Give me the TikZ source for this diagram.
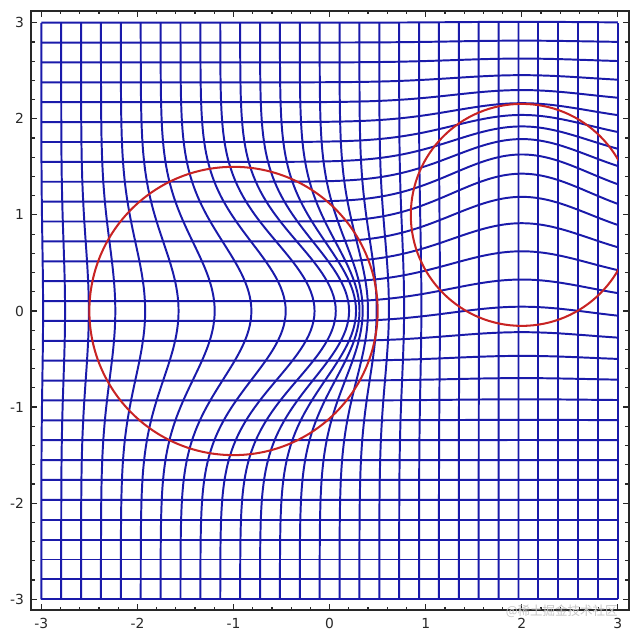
\documentclass[tikz,border=0pt]{standalone}
\usepackage{fontspec}
\setmainfont{DejaVu Sans}
\newfontfamily\cjk{Noto Sans CJK SC}
\definecolor{gridblue}{RGB}{26,26,170}
\definecolor{circred}{RGB}{200,35,35}
\definecolor{framegray}{RGB}{40,40,40}
\begin{document}
\begin{tikzpicture}[x=1cm,y=1cm,
  gridline/.style={gridblue, line width=0.58pt, line join=round},
  circline/.style={circred, line width=0.6pt},
  frameline/.style={framegray, line width=0.55pt},
  tickline/.style={framegray, line width=0.35pt},
  ticklabel/.style={font=\fontsize{4.1}{5}\selectfont, text=framegray, inner sep=0pt}]
\useasboundingbox (-3.430,-3.413) rectangle (3.230,3.236);
% deformed vertical grid lines
\foreach \i in {0,...,29}{
  \pgfmathsetmacro\xo{-3+\i*6/29}
  \draw[gridline] plot[domain=-3:3, samples=121, variable=\t]
    ({\xo+exp(-((\xo+1)*(\xo+1)+(\t)*(\t)))},
     {\t+0.5*exp(-((\xo-2)*(\xo-2)+(\t-1)*(\t-1)))});
}
% deformed horizontal grid lines
\foreach \j in {0,...,29}{
  \pgfmathsetmacro\yo{-3+\j*6/29}
  \draw[gridline] plot[domain=-3:3, samples=161, variable=\t]
    ({\t+exp(-((\t+1)*(\t+1)+(\yo)*(\yo)))},
     {\yo+0.5*exp(-((\t-2)*(\t-2)+(\yo-1)*(\yo-1)))});
}
% circles
\draw[circline] (-1,0) circle (1.5);
\begin{scope}
  \clip (-3.2,-3.2) rectangle (3,3.2);
  \draw[circline] (2,1) circle (1.155);
\end{scope}
% frame
\draw[frameline] (-3.107,-3.111) rectangle (3.115,3.122);
% minor ticks
\foreach \k in {-15,...,15}{
  \pgfmathsetmacro\v{\k/5}
  \draw[tickline] (\v,-3.111) -- ++(0,0.035);
  \draw[tickline] (\v,3.122) -- ++(0,-0.035);
  \draw[tickline] (-3.107,\v) -- ++(0.04,0);
  \draw[tickline] (3.115,\v) -- ++(-0.04,0);
}
% major ticks and labels
\foreach \v [count=\n] in {-3,...,3}{
  \draw[tickline] (\v,-3.111) -- ++(0,0.06);
  \draw[tickline] (\v,3.122) -- ++(0,-0.06);
  \draw[tickline] (-3.107,\v) -- ++(0.065,0);
  \draw[tickline] (3.115,\v) -- ++(-0.065,0);
  \node[ticklabel, anchor=east] (yl\n) at (-3.175,\v) {\v};
  \node[ticklabel, anchor=center] (xl\n) at (\v,-3.247) {\v};
}
% watermark
\node[font=\cjk\fontsize{3.7}{4.5}\selectfont, text=gray!45, inner sep=0pt] (wm) at (2.416,-3.125) {@稀土掘金技术社区};
\end{tikzpicture}
\end{document}
